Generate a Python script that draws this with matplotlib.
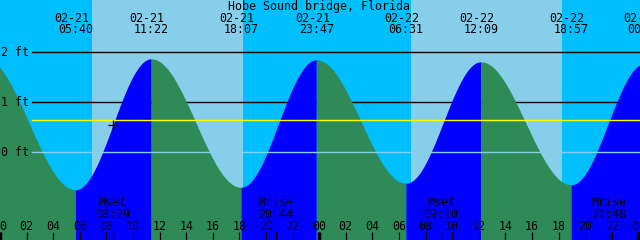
import numpy as np
import matplotlib
matplotlib.use("Agg")
import matplotlib.pyplot as plt
import matplotlib.transforms as mtransforms

# ---------------- data ----------------
title = "Hobe Sound bridge, Florida"
ref_day = 21  # hours counted from 02-21 00:00

tide_dates = ["02-20", "02-21", "02-21", "02-21", "02-21", "02-22", "02-22", "02-22", "02-23"]
tide_times = ["22:45", "05:40", "11:22", "18:07", "23:47", "06:31", "12:09", "18:57", "00:30"]
tide_heights = [1.90, -0.75, 1.87, -0.70, 1.85, -0.62, 1.81, -0.65, 1.78]

moon_names = ["Mset", "Mrise", "Mset", "Mrise"]
moon_dates = ["02-21", "02-21", "02-22", "02-22"]
moon_times = ["08:29", "20:44", "09:10", "21:48"]

sunrise_dates = ["02-21", "02-22"]
sunrise_times = ["06:53", "06:53"]
sunset_dates = ["02-21", "02-22"]
sunset_times = ["18:15", "18:15"]

depth_lines = [0, 1, 2]
depth_labels = ["0 ft", "1 ft", "2 ft"]
mean_level = 0.64
now_date, now_time, now_height = "02-21", "08:32", 0.55

tick_hours = list(range(0, 50, 2))
tick_labels = ["%02d" % (h % 24) for h in tick_hours]
day_boundaries = [0, 24, 48]

# ---------------- style ----------------
NIGHT = "#00BFFF"
DAY = "#87CEEB"
FLOOD = "#0000FF"
EBB = "#2E8B57"
FONT = "DejaVu Sans Mono"
FS = 8.4
W, H = 640, 240


def hours(date, tm):
    d = int(date.split("-")[1]) - ref_day
    hh, mm = tm.split(":")
    return d * 24 + int(hh) + int(mm) / 60.0


ev_t = np.array([hours(d, t) for d, t in zip(tide_dates, tide_times)])
ev_h = np.array(tide_heights)

px_per_hour = W / 48.0
x0 = 1.7 / px_per_hour
zero_py = 152.3
px_per_ft = 50.0
ymin = -(H - zero_py) / px_per_ft
ymax = zero_py / px_per_ft

fig = plt.figure(figsize=(6.4, 2.4), dpi=100)
ax = fig.add_axes([0, 0, 1, 1])
ax.set_xlim(x0, x0 + 48)
ax.set_ylim(ymin, ymax)
ax.set_facecolor(NIGHT)
for s in ax.spines.values():
    s.set_visible(False)
ax.set_yticks([])

# day shading
for rd, rt, sd, st in zip(sunrise_dates, sunrise_times, sunset_dates, sunset_times):
    ax.axvspan(hours(rd, rt), hours(sd, st), color=DAY, lw=0, zorder=0)

# depth lines behind water
for d in depth_lines:
    if d != 0:
        ax.axhline(d, xmin=32 / W, xmax=1, color="black", lw=1.0, zorder=1)

# tide curve (cosine shape between the read extremes)
for i in range(len(ev_t) - 1):
    ts = np.linspace(ev_t[i], ev_t[i + 1], 120)
    frac = (ts - ev_t[i]) / (ev_t[i + 1] - ev_t[i])
    hs = ev_h[i] + (ev_h[i + 1] - ev_h[i]) * (1 - np.cos(np.pi * frac)) / 2
    col = FLOOD if ev_h[i + 1] > ev_h[i] else EBB
    ax.fill_between(ts, hs, ymin, color=col, lw=0, zorder=2)

# zero line over water, mean level line on top
ax.axhline(0, xmin=32 / W, xmax=1, color=DAY, lw=1.0, zorder=3)
ax.axhline(mean_level, xmin=32 / W, xmax=1, color="#FFFF00", lw=1.0, zorder=4)

# depth labels
for d, lab in zip(depth_lines, depth_labels):
    yb = d - 4 / px_per_ft
    ax.text(1, yb, lab, transform=mtransforms.blended_transform_factory(
        mtransforms.IdentityTransform(), ax.transData),
        fontfamily=FONT, fontsize=FS, va="baseline", ha="left", zorder=6)

# now marker
ax.plot([hours(now_date, now_time)], [now_height], marker="+", color="black",
        ms=7, mew=1.0, zorder=5)

trans_top = ax.get_xaxis_transform()


def yfrac(py):
    return 1 - py / H


# title
ax.text(0.498, yfrac(10), title, transform=ax.transAxes, ha="center",
        va="baseline", fontfamily=FONT, fontsize=FS, zorder=6)

# tide event labels
date_trans = mtransforms.offset_copy(trans_top, fig=fig, x=-4, y=0, units="dots")
for d, t, th in zip(tide_dates, tide_times, ev_t):
    ax.text(th, yfrac(21.7), d, transform=date_trans, ha="center", va="baseline",
            fontfamily=FONT, fontsize=FS, zorder=6, clip_on=False)
    ax.text(th, yfrac(33.3), t, transform=trans_top, ha="center", va="baseline",
            fontfamily=FONT, fontsize=FS, zorder=6, clip_on=False)

# moon labels and ticks
for n, d, t in zip(moon_names, moon_dates, moon_times):
    mt = hours(d, t)
    ax.text(mt, yfrac(206), n, transform=trans_top, ha="center", va="baseline",
            fontfamily=FONT, fontsize=FS, zorder=6)
    ax.text(mt, yfrac(217.7), t, transform=trans_top, ha="center", va="baseline",
            fontfamily=FONT, fontsize=FS, zorder=6)
    ax.vlines(mt, 0, 8 / H, transform=trans_top, color="black", lw=1.0, zorder=6)

# day boundary ticks
ax.vlines(day_boundaries, 0, 8.5 / H, transform=trans_top, color="black",
          lw=2.5, zorder=6)

# hour ticks
ax.set_xticks(tick_hours)
ax.set_xticklabels(tick_labels, fontfamily=FONT, fontsize=FS)
ax.tick_params(axis="x", direction="in", length=8 * 0.72, width=0.9,
               color="black", pad=-7.2, zorder=6)
for lab in ax.get_xticklabels():
    lab.set_verticalalignment("baseline")
ax.xaxis.set_zorder(6)
ax.set_axisbelow(False)

fig.savefig("out.png", dpi=100)
